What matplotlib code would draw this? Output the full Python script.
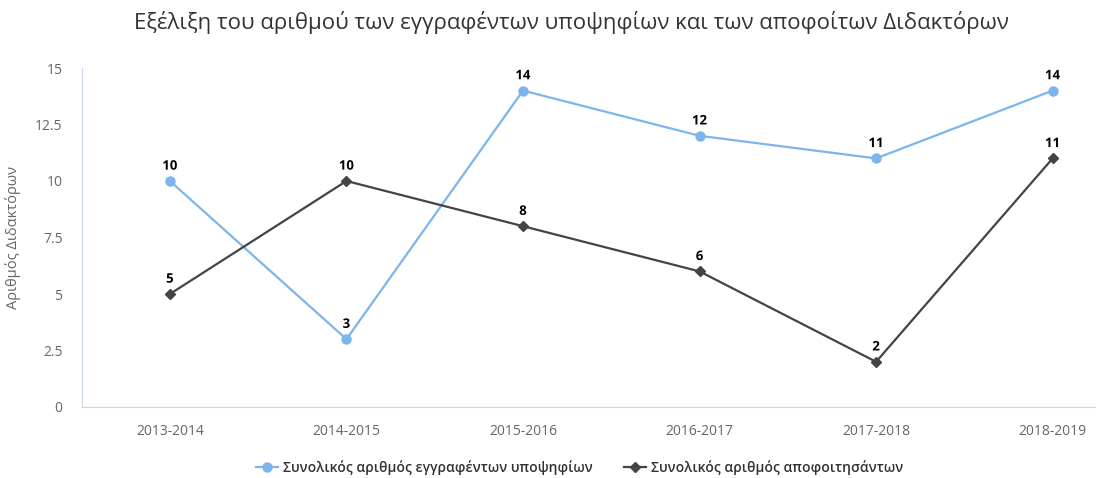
import matplotlib.pyplot as plt
import matplotlib.patheffects as pe

plt.rcParams['font.family'] = ['Open Sans', 'DejaVu Sans']

years = ['2013-2014', '2014-2015', '2015-2016', '2016-2017', '2017-2018', '2018-2019']
enrolled = [10, 3, 14, 12, 11, 14]
graduated = [5, 10, 8, 6, 2, 11]

fig = plt.figure(figsize=(11.04, 4.78), dpi=100)
ax = fig.add_axes([82/1104, 1-407/478, (1095-82)/1104, (407-68)/478])

x = range(len(years))
ax.plot(x, enrolled, color='#7cb5ec', lw=1.6, marker='o', ms=6.5,
        label='Συνολικός αριθμός εγγραφέντων υποψηφίων', zorder=3)
ax.plot(x, graduated, color='#434348', lw=1.6, marker='D', ms=5.5,
        label='Συνολικός αριθμός αποφοιτησάντων', zorder=3)

for series in (enrolled, graduated):
    for i, v in enumerate(series):
        ax.annotate(str(v), (i, v), xytext=(0, 6), textcoords='offset points',
                    ha='center', va='bottom', fontsize=9.5, fontweight='bold',
                    color='black', zorder=4,
                    path_effects=[pe.withStroke(linewidth=2.5, foreground='white')])

ax.set_xlim(-0.498, 5.24)
ax.set_ylim(0, 15)
ax.set_yticks([0, 2.5, 5, 7.5, 10, 12.5, 15])
ax.set_yticklabels(['0', '2.5', '5', '7.5', '10', '12.5', '15'])
ax.set_xticks(list(x))
ax.set_xticklabels(years)
ax.tick_params(axis='both', length=0, labelsize=10, colors='#666666')
ax.tick_params(axis='x', pad=12)
ax.tick_params(axis='y', pad=14)

for s in ['top', 'right']:
    ax.spines[s].set_visible(False)
ax.spines['left'].set_color('#ccd6eb')
ax.spines['bottom'].set_color('#ccd6eb')

ax.set_ylabel('Αριθμός Διδακτόρων', color='#666666', fontsize=10.5, labelpad=10)

fig.text(0.518, 0.953, 'Εξέλιξη του αριθμού των εγγραφέντων υποψηφίων και των αποφοίτων Διδακτόρων',
         ha='center', va='center', fontsize=16, color='#333333')

fig.legend(loc='center', bbox_to_anchor=(0.525, 0.022), ncol=2, frameon=False,
           prop={'size': 10, 'weight': 'semibold'}, labelcolor='#333333',
           handlelength=1.6, columnspacing=2.2, handletextpad=0.4)

fig.savefig('out.png', dpi=100)
